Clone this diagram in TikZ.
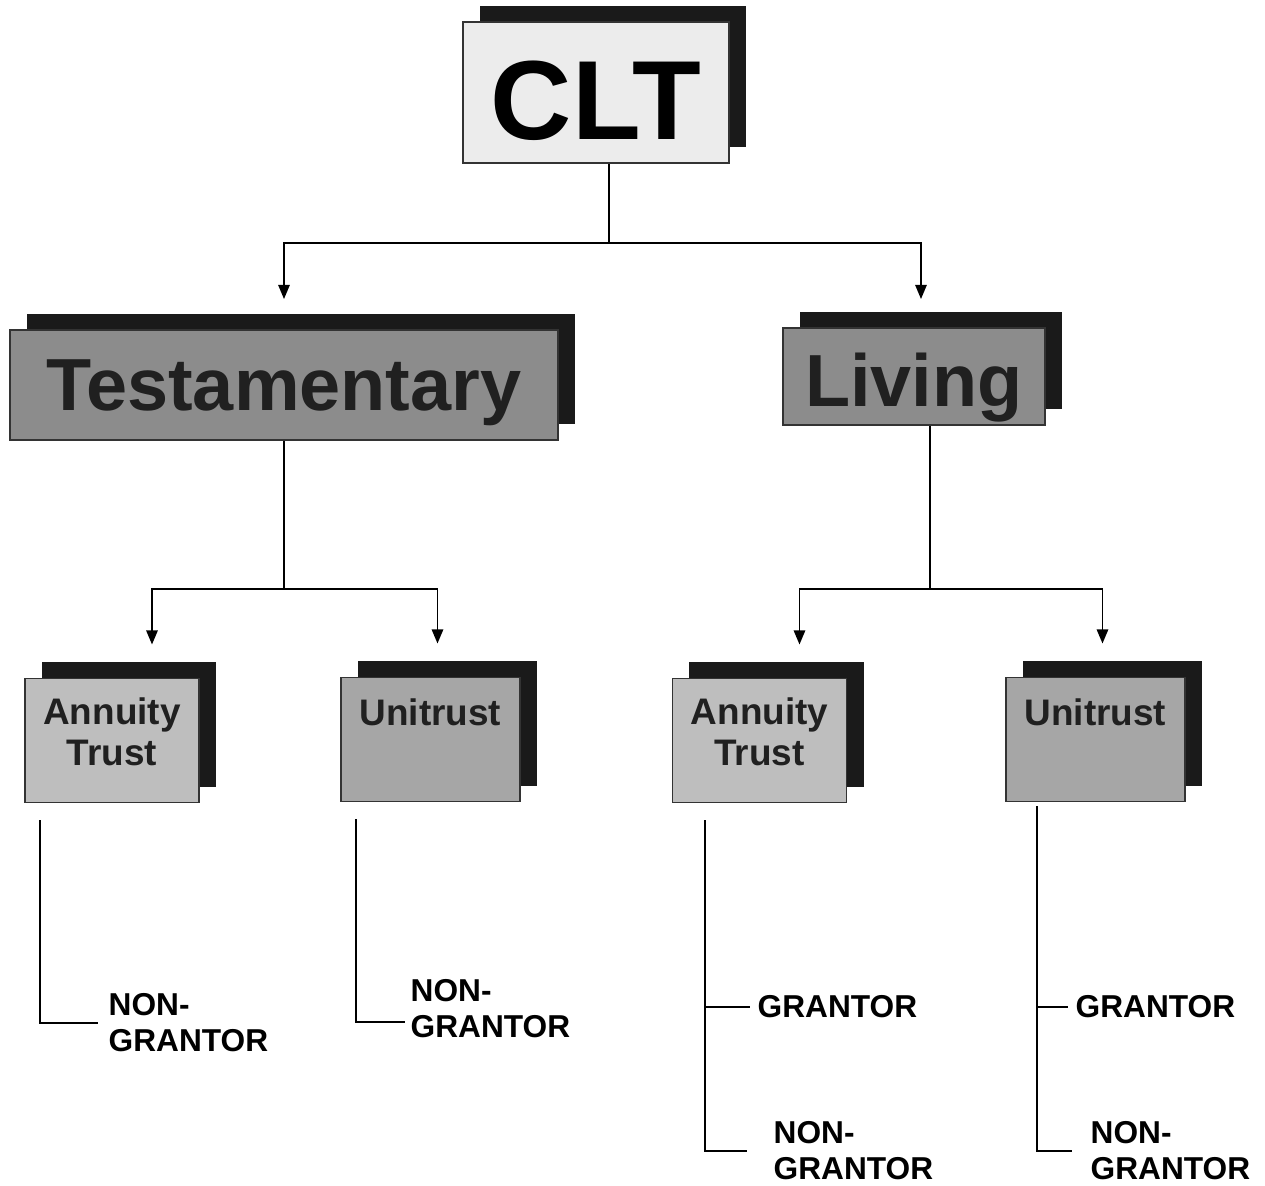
\documentclass[tikz,border=0pt]{standalone}
\usepackage{fontspec}
\setmainfont{Liberation Sans}
\usetikzlibrary{arrows.meta, positioning, calc, shadows}
\definecolor{shadowgray}{RGB}{26,26,26}
\definecolor{paleface}{RGB}{236,236,236}
\definecolor{midface}{RGB}{140,140,140}
\definecolor{annface}{RGB}{190,190,190}
\definecolor{uniface}{RGB}{166,166,166}
\definecolor{inkgray}{RGB}{32,32,32}

\begin{document}
\begin{tikzpicture}[x=0.01cm, y=-0.01cm,
  box/.style={rectangle, draw=black!80, line width=0.5pt, inner sep=0pt,
              general shadow={fill=shadowgray, shadow xshift=0.17cm, shadow yshift=0.16cm}},
  rootbox/.style={box, fill=paleface, minimum width=2.66cm, minimum height=1.41cm,
                  text height=27pt, text depth=0pt,
                  font=\fontsize{32}{36}\selectfont\bfseries},
  kindbox/.style={box, fill=midface, text=inkgray, text depth=0pt,
                  font=\fontsize{21}{24}\selectfont\bfseries},
  trustbox/.style={box, minimum width=1.74cm, minimum height=1.24cm},
  trusttxt/.style={anchor=north, inner sep=0pt, align=center, text=inkgray,
                   font=\fontsize{10.5}{11.7}\selectfont\bfseries},
  leaf/.style={anchor=west, inner sep=0pt, align=left,
               font=\fontsize{9}{10.3}\selectfont\bfseries},
  wire/.style={line width=0.55pt},
  harr/.style={-{Triangle[length=4pt, width=3.2pt]}, line width=0.55pt}
]
\useasboundingbox (0,0) rectangle (1265,1186);

% ── Row 0: the trust itself ──────────────────────────────────────────────
\node[rootbox] (clt) at (596, 92.5) {CLT};

% ── Row 1: when it is set up ─────────────────────────────────────────────
\node[kindbox, minimum width=5.48cm, minimum height=1.10cm] (test) at (284, 385) {Testamentary};
\node[kindbox, minimum width=2.62cm, minimum height=0.97cm, text height=17pt] (liv) at (914, 376.5) {Living};

% ── Row 2: payout form (text sits near the top of each box) ──────────────
\node[trustbox, fill=annface] (atl) at (112, 740.5) {};
\node[trustbox, fill=uniface, minimum width=1.79cm] (utl) at (430.5, 739.5) {};
\node[trustbox, fill=annface] (atr) at (759.5, 740.5) {};
\node[trustbox, fill=uniface, minimum width=1.79cm] (utr) at (1095.5, 739.5) {};

\node[trusttxt, yshift=-0.19cm] (atl-txt) at (atl.north) {Annuity\\Trust};
\node[trusttxt, yshift=-0.21cm] (utl-txt) at (utl.north) {Unitrust};
\node[trusttxt, yshift=-0.19cm] (atr-txt) at (atr.north) {Annuity\\Trust};
\node[trusttxt, yshift=-0.21cm] (utr-txt) at (utr.north) {Unitrust};

% ── Row 3: tax status ────────────────────────────────────────────────────
\node[leaf] (ngl1) at (108, 1023)  {NON-\\GRANTOR};
\node[leaf] (ngl2) at (410, 1009)  {NON-\\GRANTOR};
\node[leaf] (gr1)  at (757, 1007)  {GRANTOR};
\node[leaf] (ngr1) at (773, 1151)  {NON-\\GRANTOR};
\node[leaf] (gr2)  at (1075, 1007) {GRANTOR};
\node[leaf] (ngr2) at (1090, 1151) {NON-\\GRANTOR};

% ── Arrows: CLT → testamentary / living ──────────────────────────────────
\coordinate (hub) at ($(clt.south)+(13,79)$);
\draw[wire] (clt.south -| hub) -- (hub);
\draw[harr, shorten >=0.30cm] (hub) -| (test.north);
\draw[harr, shorten >=0.28cm] (hub) -| ($(liv.north)+(7,0)$);

% ── Arrows: testamentary → trusts ────────────────────────────────────────
\coordinate (tfork) at ($(test.south)+(0,148)$);
\draw[wire] (test.south) -- (tfork);
\draw[harr, shorten >=0.33cm] (tfork) -| ($(atl.north)+(40,0)$);
\draw[harr, shorten >=0.33cm] (tfork) -| ($(utl.north)+(7,0)$);

% ── Arrows: living → trusts ──────────────────────────────────────────────
\coordinate (lfork) at ($(liv.south)+(16,163)$);
\draw[wire] (liv.south -| lfork) -- (lfork);
\draw[harr, shorten >=0.33cm] (lfork) -| ($(atr.north)+(40,0)$);
\draw[harr, shorten >=0.33cm] (lfork) -| ($(utr.north)+(7,0)$);

% ── Brackets: trusts → tax status ────────────────────────────────────────
\coordinate (atl-foot) at ($(atl.south west)+(16,17)$);
\coordinate (utl-foot) at ($(utl.south west)+(16,17)$);
\coordinate (atr-foot) at ($(atr.south west)+(33,17)$);
\coordinate (utr-foot) at ($(utr.south west)+(32,4)$);

\draw[wire] (atl-foot) |- ([xshift=-0.10cm]ngl1.west);
\draw[wire] (utl-foot) |- ([shift={(-0.05cm,-0.13cm)}]ngl2.west);

\draw[wire] (atr-foot) |- ([xshift=-0.26cm]ngr1.west);
\draw[wire] (gr1.west -| atr-foot) -- ([xshift=-0.07cm]gr1.west);

\draw[wire] (utr-foot) |- ([xshift=-0.18cm]ngr2.west);
\draw[wire] (gr2.west -| utr-foot) -- ([xshift=-0.07cm]gr2.west);

\end{tikzpicture}
\end{document}
